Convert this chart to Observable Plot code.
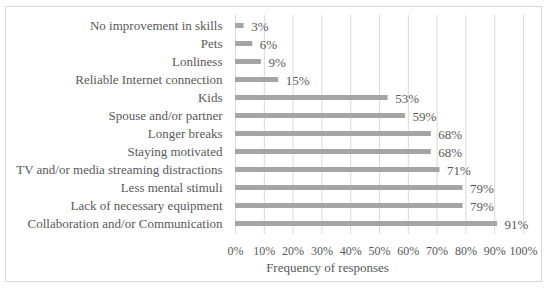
<!DOCTYPE html>
<html>
<head>
<meta charset="utf-8">
<script src="https://cdn.jsdelivr.net/npm/d3@7"></script>
<script src="https://cdn.jsdelivr.net/npm/@observablehq/plot@0.6"></script>
<style>
  html, body { margin: 0; padding: 0; background: #fff; }
  #wrap { position: relative; width: 550px; height: 288px; }
  #frame { position: absolute; left: 5px; top: 6px; width: 537px; height: 276px; border: 1px solid #d9d9d9; box-sizing: border-box; }
  #chart { position: absolute; left: 0; top: 0; }
</style>
</head>
<body>
<div id="wrap"><div id="frame"></div><div id="chart"></div></div>
<script>
const categories = [
  "No improvement in skills",
  "Pets",
  "Lonliness",
  "Reliable Internet connection",
  "Kids",
  "Spouse and/or partner",
  "Longer breaks",
  "Staying motivated",
  "TV and/or media streaming distractions",
  "Less mental stimuli",
  "Lack of necessary equipment",
  "Collaboration and/or Communication"
];
const values = [3, 6, 9, 15, 53, 59, 68, 68, 71, 79, 79, 91];
const xTicks = [0, 10, 20, 30, 40, 50, 60, 70, 80, 90, 100];
const axisTitle = "Frequency of responses";

const data = categories.map((c, i) => ({category: c, value: values[i]}));
const font = "'Liberation Serif', 'DejaVu Serif', serif";

const chart = Plot.plot({
  width: 550,
  height: 288,
  marginLeft: 235,
  marginRight: 27,
  marginTop: 15,
  marginBottom: 54,
  style: {fontFamily: font, fontSize: "13px", color: "#595959", background: "transparent"},
  x: {domain: [0, 100], ticks: xTicks, tickFormat: d => d + "%", label: null},
  y: {domain: categories, paddingInner: 0.7, paddingOuter: 0.29, label: null},
  marks: [
    Plot.gridX(xTicks, {stroke: "#d9d9d9", strokeOpacity: 1}),
    Plot.axisX({ticks: xTicks, tickSize: 0, tickPadding: 12, tickFormat: d => d + "%", label: null, fontSize: 12}),
    Plot.axisY({tickSize: 0, tickPadding: 13, label: null, fontSize: 13}),
    Plot.barX(data, {x: "value", y: "category", fill: "#a5a5a5"}),
    Plot.text(data, {x: "value", y: "category", text: d => d.value + "%", textAnchor: "start", dx: 7, dy: 1, fill: "#595959", fontSize: 13}),
    Plot.text([axisTitle], {frameAnchor: "bottom", dx: -52, dy: 37, fill: "#595959", fontSize: 13})
  ]
});
document.getElementById("chart").appendChild(chart);
</script>
</body>
</html>
